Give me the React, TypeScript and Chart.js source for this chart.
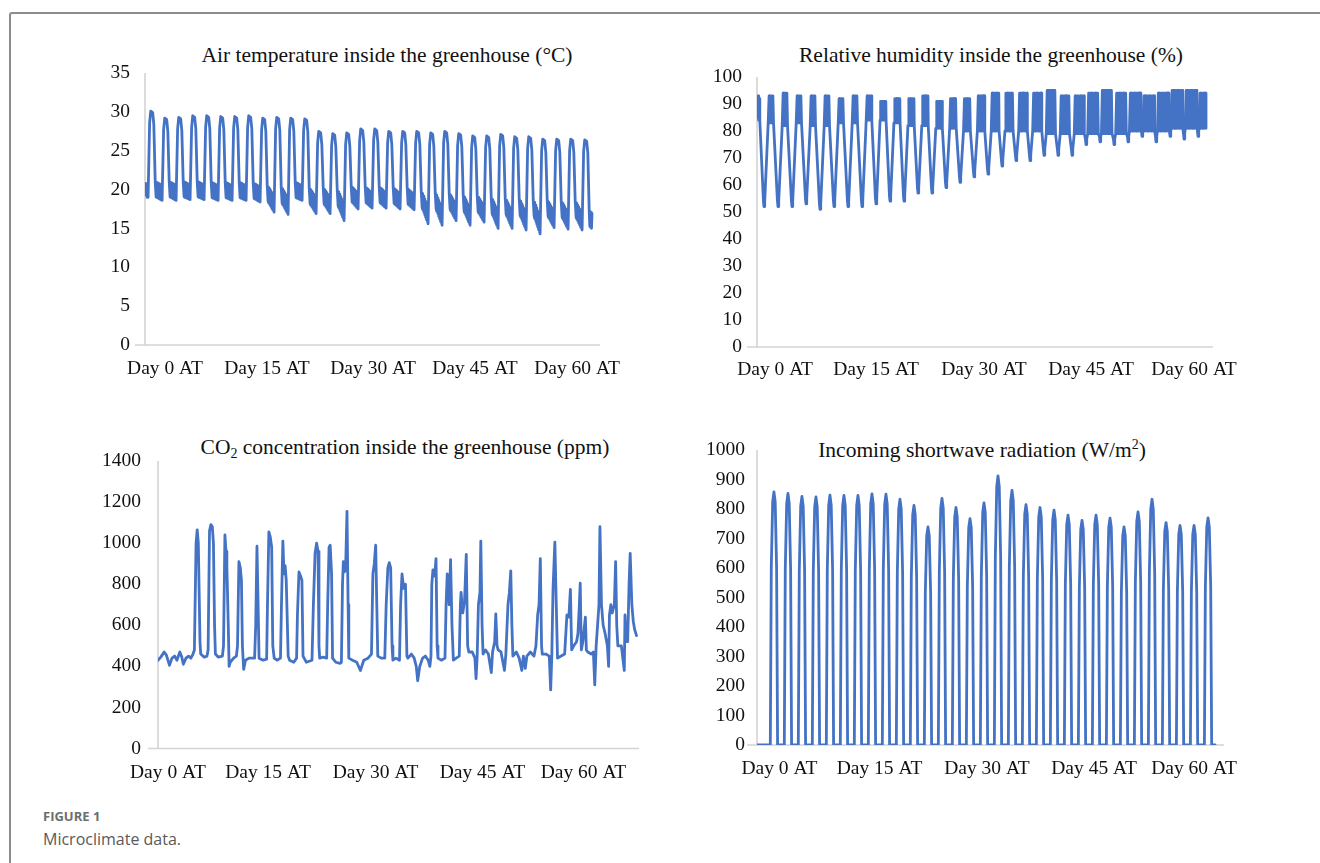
import React, { useEffect, useRef } from "react";
import { Chart, registerables } from "chart.js";

Chart.register(...registerables);

const LINE_BLUE = "#4472C4";
const AXIS_GRAY = "#d4d4d4";
const TEXT = "#111111";
const SERIF = "'Liberation Serif', 'Times New Roman', serif";
const SANS = "'Open Sans', 'Noto Sans', sans-serif";

// ---- x-axis tick labels (shared) and their positions (record-day units) per panel ----
const dayTickLabels = ["Day 0 AT", "Day 15 AT", "Day 30 AT", "Day 45 AT", "Day 60 AT"];
const tempTickPos = [0.93, 8.21, 15.79, 23.07, 30.36];
const rhTickPos = [0.79, 8.0, 15.71, 23.36, 30.71];
const co2TickPos = [0.21, 7.36, 15.04, 22.68, 29.89];
const radTickPos = [0.39, 7.54, 15.21, 22.86, 30.0];

// ---- Air temperature (°C): daily maximum, night band top and night minimum ----
const tempPeak = [30.1, 29.2, 29.3, 29.5, 29.5, 29.4, 29.4, 29.5, 29.2, 29.3, 29.2, 29.1, 27.5, 27.2, 27.3, 27.8,
  27.8, 27.5, 27.5, 27.5, 27.3, 27.5, 27.2, 26.9, 26.9, 27.1, 26.8, 26.8, 26.5, 26.5, 26.5, 26.4];
const tempNightHigh = [21.0, 21.0, 21.0, 21.0, 20.9, 20.9, 20.9, 20.8, 20.5, 20.3, 20.9, 20.2, 20.2, 20.0, 20.4, 20.3,
  20.3, 20.2, 20.1, 19.8, 19.6, 19.5, 19.3, 19.2, 19.0, 18.9, 18.8, 18.7, 18.6, 18.5, 18.5, 17.2];
const tempNightLow = [18.6, 18.6, 18.7, 18.7, 18.6, 18.6, 18.6, 18.4, 17.1, 16.8, 18.6, 16.9, 16.9, 16.0, 17.5, 17.6,
  17.6, 17.5, 17.4, 15.6, 15.4, 16.0, 15.4, 15.8, 15.0, 15.0, 14.8, 14.3, 15.1, 14.9, 14.8, 15.0];
const tempStart = [20.8, 19.3, 20.7, 19.0];

// ---- Relative humidity (%): daytime minimum, night band top and bottom, dip half-width ----
const rhTrough = [52, 52, 52, 53, 51, 52, 52, 52, 53, 54, 54, 57, 57, 59, 61, 63,
  64, 67, 69, 69, 71, 71, 71, 75, 76, 75, 76, 78, 76, 78, 77, 78];
const rhNightTop = [93, 94, 93, 93, 93, 92, 93, 93, 91, 92, 92, 93, 91, 92, 92, 93,
  94, 94, 94, 94, 95, 93, 93, 94, 95, 94, 94, 93, 94, 95, 95, 94];
const rhNightBot = [83, 82, 83, 82, 82, 83, 83, 84, 84, 83, 82, 82, 81, 81, 80, 80,
  80, 80, 80, 80, 79, 79, 79, 79, 79, 79, 80, 80, 80, 81, 81, 81];
const rhDipHalf = [0.3, 0.3, 0.3, 0.3, 0.3, 0.3, 0.3, 0.3, 0.29, 0.28, 0.28, 0.27, 0.27, 0.26, 0.25, 0.24,
  0.23, 0.21, 0.19, 0.19, 0.16, 0.16, 0.16, 0.12, 0.1, 0.12, 0.1, 0.08, 0.1, 0.08, 0.09, 0.08];
const rhStart = [92, 85, 93, 84, 92];

// ---- CO2 concentration (ppm): [record day, ppm] ----
const co2Samples: [number, number][] = [
  [-0.5, 430], [-0.3, 445], [-0.06, 470], [0.1, 455], [0.32, 405], [0.5, 440], [0.69, 450], [0.85, 430],
  [1.06, 470], [1.2, 445], [1.31, 410], [1.5, 440], [1.68, 450], [1.85, 440], [2.0, 460],
  [2.1, 480], [2.22, 1000], [2.3, 1065], [2.38, 1000], [2.5, 520], [2.55, 460],
  [2.8, 445], [3.0, 450],
  [3.08, 480], [3.18, 1060], [3.28, 1090], [3.38, 1080], [3.46, 1000], [3.54, 600], [3.6, 460],
  [3.8, 445], [4.1, 450],
  [4.18, 500], [4.28, 1040], [4.36, 960], [4.42, 890], [4.52, 600], [4.58, 400], [4.66, 420],
  [4.9, 440], [5.1, 450],
  [5.18, 500], [5.28, 910], [5.38, 880], [5.46, 820], [5.53, 500], [5.62, 385], [5.75, 430],
  [6.0, 440], [6.4, 440],
  [6.48, 600], [6.57, 985], [6.65, 700], [6.72, 440],
  [7.0, 430], [7.26, 435],
  [7.32, 700], [7.42, 1055], [7.52, 1030], [7.62, 980], [7.7, 500], [7.8, 440],
  [8.0, 430], [8.25, 440],
  [8.32, 700], [8.42, 1010], [8.5, 850], [8.58, 890], [8.66, 820], [8.8, 450], [8.9, 430],
  [9.2, 420], [9.4, 440],
  [9.46, 650], [9.57, 860], [9.68, 840], [9.78, 820], [9.86, 450],
  [10.1, 420], [10.5, 430],
  [10.6, 700], [10.72, 950], [10.83, 1000], [10.93, 960], [11.0, 500], [11.05, 440],
  [11.3, 445], [11.55, 440],
  [11.62, 700], [11.72, 980], [11.8, 990], [11.9, 850], [11.97, 440],
  [12.2, 420], [12.5, 415], [12.6, 420],
  [12.68, 800], [12.74, 910], [12.82, 860], [12.9, 870], [13.0, 1155], [13.08, 700], [13.13, 440],
  [13.4, 430], [13.7, 420], [13.96, 380], [14.2, 430], [14.5, 440], [14.75, 460],
  [14.85, 850], [14.95, 900], [15.05, 990], [15.13, 700], [15.2, 450],
  [15.45, 440], [15.7, 440],
  [15.8, 700], [15.92, 880], [16.02, 905], [16.12, 880], [16.22, 500], [16.28, 430],
  [16.5, 440], [16.75, 430],
  [16.83, 700], [16.93, 850], [17.05, 780], [17.18, 800], [17.28, 450], [17.35, 440],
  [17.6, 460], [17.8, 440], [17.95, 400], [18.05, 330], [18.2, 400], [18.4, 440], [18.6, 450],
  [18.8, 430], [18.92, 400], [19.0, 450],
  [19.06, 800], [19.14, 870], [19.21, 840], [19.3, 870], [19.36, 925], [19.44, 500], [19.5, 440],
  [19.75, 430], [20.0, 440],
  [20.08, 700], [20.16, 850], [20.24, 840], [20.3, 700], [20.4, 920], [20.5, 600], [20.6, 430],
  [20.8, 440], [21.02, 450],
  [21.1, 700], [21.15, 760], [21.27, 660], [21.4, 720], [21.52, 945], [21.62, 500], [21.7, 470],
  [21.95, 470], [22.14, 440], [22.22, 340], [22.3, 450],
  [22.39, 700], [22.5, 760], [22.56, 1010], [22.65, 600], [22.72, 460],
  [22.9, 480], [23.1, 460], [23.31, 370], [23.4, 470], [23.55, 520],
  [23.63, 655], [23.72, 500], [23.8, 480], [24.0, 470], [24.25, 380], [24.35, 460],
  [24.5, 700], [24.6, 760], [24.7, 865], [24.78, 600], [24.85, 450],
  [25.1, 470], [25.3, 440], [25.49, 380], [25.6, 450], [25.74, 390], [25.85, 450], [26.1, 470], [26.36, 450],
  [26.5, 500], [26.62, 650], [26.72, 700], [26.81, 925], [26.9, 500], [26.95, 460],
  [27.2, 460], [27.45, 450], [27.55, 285], [27.63, 450],
  [27.72, 780], [27.85, 1005], [27.95, 700], [28.04, 440],
  [28.3, 450], [28.55, 460], [28.71, 650], [28.85, 640], [28.96, 775], [29.05, 480],
  [29.2, 500], [29.4, 520], [29.5, 560],
  [29.6, 700], [29.66, 805], [29.74, 480], [29.85, 520], [30.03, 640], [30.1, 480], [30.2, 470],
  [30.45, 460], [30.6, 470], [30.7, 310], [30.8, 500],
  [30.9, 600], [31.0, 700], [31.07, 1080], [31.18, 700], [31.3, 600], [31.44, 560], [31.6, 500],
  [31.69, 400], [31.75, 650], [31.85, 700],
  [31.95, 660], [32.1, 700], [32.19, 910], [32.27, 600], [32.35, 500], [32.6, 500], [32.81, 380],
  [32.86, 650], [32.95, 520], [33.05, 520],
  [33.15, 800], [33.23, 950], [33.35, 700], [33.45, 620], [33.55, 580], [33.68, 550],
];

// ---- Incoming shortwave radiation (W/m²): daily peak ----
const radPeak = [858, 853, 843, 841, 847, 846, 846, 851, 850, 833, 812, 739, 836, 805, 767, 821,
  912, 863, 815, 805, 796, 779, 761, 779, 769, 739, 790, 833, 754, 744, 744, 770];

// shape of one daylight pulse (offset in record days, fraction of peak)
const radPulseOffset = [-0.26, -0.19, -0.09, 0, 0.09, 0.19, 0.26];
const radPulseShare = [0, 0.7, 0.96, 1, 0.96, 0.7, 0];

type Pt = { x: number; y: number };

function buildTemperature(): Pt[] {
  const pts: Pt[] = [
    { x: -0.5, y: tempStart[0] }, { x: -0.45, y: tempStart[1] },
    { x: -0.4, y: tempStart[2] }, { x: -0.34, y: tempStart[3] },
  ];
  const end = 31.43;
  for (let i = 0; i < tempPeak.length; i++) {
    const p = tempPeak[i];
    const hi = tempNightHigh[i];
    const lo = tempNightLow[i];
    const w = Math.min(hi - lo, 1.9);
    const prevLo = i === 0 ? tempStart[3] : tempNightLow[i - 1];
    pts.push(
      { x: i - 0.28, y: prevLo }, { x: i - 0.17, y: p - 1.5 }, { x: i - 0.09, y: p },
      { x: i + 0.05, y: p - 0.2 }, { x: i + 0.13, y: p - 1.7 }, { x: i + 0.23, y: hi },
    );
    const s0 = i + 0.26;
    const s1 = i === tempPeak.length - 1 ? end : i + 0.71;
    const steps = 14;
    for (let k = 0; k <= steps; k++) {
      const f = k / steps;
      const top = hi + (lo + w - hi) * f;
      const bot = hi - w + (lo - (hi - w)) * f;
      pts.push({ x: s0 + (s1 - s0) * f, y: k % 2 === 0 ? top : bot });
    }
  }
  return pts;
}

function buildHumidity(): Pt[] {
  const pts: Pt[] = rhStart.map((v, k) => ({ x: -0.5 + k * 0.04, y: v }));
  const end = 31.57;
  const n = rhTrough.length;
  for (let i = 0; i < n; i++) {
    const h = rhDipHalf[i];
    const prevBot = i === 0 ? rhStart[rhStart.length - 1] - 8 : rhNightBot[i - 1];
    pts.push(
      { x: i - h, y: prevBot },
      { x: i - 0.04, y: rhTrough[i] + 2 },
      { x: i, y: rhTrough[i] },
      { x: i + 0.05, y: rhTrough[i] + 2 },
      { x: i + h, y: rhNightBot[i] },
    );
    const s0 = i + h + 0.02;
    const s1 = i === n - 1 ? end : i + 1 - rhDipHalf[i + 1] - 0.02;
    const steps = Math.max(4, Math.round((s1 - s0) * 22));
    for (let k = 0; k <= steps; k++) {
      const f = k / steps;
      pts.push({ x: s0 + (s1 - s0) * f, y: k % 2 === 0 ? rhNightBot[i] : rhNightTop[i] });
    }
  }
  return pts;
}

function buildCO2(): Pt[] {
  return co2Samples.map(([x, y]) => ({ x, y }));
}

function buildRadiation(): Pt[] {
  const pts: Pt[] = [{ x: -1.21, y: 0 }];
  for (let i = 0; i < radPeak.length; i++) {
    for (let k = 0; k < radPulseOffset.length; k++) {
      pts.push({ x: i + radPulseOffset[k], y: radPeak[i] * radPulseShare[k] });
    }
  }
  pts.push({ x: 31.5, y: 0 });
  return pts;
}

const axisLinesPlugin = {
  id: "axisLines",
  beforeDatasetsDraw(chart: any) {
    const { ctx, chartArea } = chart;
    const y0 = chart.scales.y.getPixelForValue(0);
    ctx.save();
    ctx.strokeStyle = AXIS_GRAY;
    ctx.lineWidth = 1.6;
    ctx.beginPath();
    ctx.moveTo(chartArea.left, chartArea.top);
    ctx.lineTo(chartArea.left, y0);
    ctx.moveTo(chartArea.left - 10, y0);
    ctx.lineTo(chartArea.right, y0);
    ctx.stroke();
    ctx.restore();
  },
};

type PanelProps = {
  box: { left: number; top: number; width: number; height: number };
  area: { left: number; right: number; top: number; bottom: number };
  points: Pt[];
  xMin: number;
  xMax: number;
  tickPos: number[];
  yMax: number;
  yStep: number;
  yPad: number;
  xPad: number;
};

function Panel(props: PanelProps) {
  const ref = useRef<HTMLCanvasElement | null>(null);
  useEffect(() => {
    const canvas = ref.current;
    if (!canvas) return;
    const { box, area } = props;
    const yAxisWidth = area.left - box.left;
    const padTop = area.top - box.top;
    const padRight = box.left + box.width - area.right;
    const xAxisHeight = box.top + box.height - area.bottom;
    const tickFont = { family: SERIF, size: 19.5 };
    const chart = new Chart(canvas, {
      type: "line",
      data: {
        datasets: [
          {
            data: props.points,
            borderColor: LINE_BLUE,
            backgroundColor: LINE_BLUE,
            borderWidth: 2.8,
            pointRadius: 0,
            fill: false,
            tension: 0,
            borderJoinStyle: "round",
            borderCapStyle: "round",
          } as any,
        ],
      },
      options: {
        responsive: false,
        animation: false,
        devicePixelRatio: 1,
        events: [],
        layout: { padding: { left: 0, top: padTop, right: padRight, bottom: 0 } },
        plugins: { legend: { display: false }, tooltip: { enabled: false }, title: { display: false } },
        scales: {
          x: {
            type: "linear",
            min: props.xMin,
            max: props.xMax,
            grid: { display: false, drawTicks: false },
            border: { display: false },
            ticks: {
              autoSkip: false,
              maxRotation: 0,
              minRotation: 0,
              padding: props.xPad,
              color: TEXT,
              font: tickFont,
              callback: (_v: any, i: number) => dayTickLabels[i] ?? "",
            },
            afterBuildTicks: (s: any) => {
              s.ticks = props.tickPos.map((v) => ({ value: v }));
            },
            afterFit: (s: any) => {
              s.height = xAxisHeight;
              s.paddingLeft = 0;
              s.paddingRight = 0;
            },
          },
          y: {
            type: "linear",
            min: 0,
            max: props.yMax,
            grid: { display: false, drawTicks: false },
            border: { display: false },
            ticks: {
              stepSize: props.yStep,
              autoSkip: false,
              padding: props.yPad,
              color: TEXT,
              font: tickFont,
              callback: (v: any) => String(v),
            },
            afterFit: (s: any) => {
              s.width = yAxisWidth;
              s.paddingTop = 0;
              s.paddingBottom = 0;
            },
          },
        },
      } as any,
      plugins: [axisLinesPlugin],
    });
    return () => chart.destroy();
  }, []);
  const { box } = props;
  return (
    <canvas
      ref={ref}
      width={box.width}
      height={box.height}
      style={{ position: "absolute", left: box.left, top: box.top, width: box.width, height: box.height }}
    />
  );
}

function Title(props: { cx: number; baseline: number; children: React.ReactNode }) {
  const size = 21.5;
  const lh = 26;
  const top = props.baseline - ((lh - size * 1.107) / 2 + size * 0.891);
  return (
    <div
      style={{
        position: "absolute",
        left: props.cx - 320,
        width: 640,
        top,
        height: lh,
        lineHeight: lh + "px",
        fontFamily: SERIF,
        fontSize: size,
        color: TEXT,
        textAlign: "center",
        whiteSpace: "nowrap",
      }}
    >
      {props.children}
    </div>
  );
}

export default function App() {
  const temp = buildTemperature();
  const rh = buildHumidity();
  const co2 = buildCO2();
  const rad = buildRadiation();
  return (
    <div style={{ position: "fixed", left: 0, top: 0, width: 1320, height: 863, overflow: "hidden", background: "#fff" }}>
      <div
        style={{
          position: "absolute",
          left: 9,
          top: 12,
          width: 1500,
          height: 1000,
          borderTop: "2px solid #8c8c8c",
          borderLeft: "2px solid #8c8c8c",
          borderTopLeftRadius: 3,
        }}
      />
      <Title cx={387} baseline={62}>Air temperature inside the greenhouse (°C)</Title>
      <Title cx={991} baseline={62}>Relative humidity inside the greenhouse (%)</Title>
      <Title cx={405} baseline={454}>
        CO<sub style={{ fontSize: "0.65em", verticalAlign: "-0.3em", lineHeight: 0 }}>2</sub> concentration inside the greenhouse (ppm)
      </Title>
      <Title cx={982} baseline={457}>
        Incoming shortwave radiation (W/m<sup style={{ fontSize: "0.65em", verticalAlign: "0.55em", lineHeight: 0 }}>2</sup>)
      </Title>

      <Panel
        box={{ left: 95, top: 60, width: 525, height: 330 }}
        area={{ left: 145, right: 600, top: 73, bottom: 345 }}
        points={temp}
        xMin={-0.5}
        xMax={32.0}
        tickPos={tempTickPos}
        yMax={35}
        yStep={5}
        yPad={15}
        xPad={12}
      />
      <Panel
        box={{ left: 700, top: 60, width: 540, height: 330 }}
        area={{ left: 757, right: 1213, top: 77, bottom: 347 }}
        points={rh}
        xMin={-0.5}
        xMax={32.07}
        tickPos={rhTickPos}
        yMax={100}
        yStep={10}
        yPad={15}
        xPad={11}
      />
      <Panel
        box={{ left: 95, top: 440, width: 560, height: 360 }}
        area={{ left: 158, right: 639, top: 461, bottom: 748.5 }}
        points={co2}
        xMin={-0.5}
        xMax={33.86}
        tickPos={co2TickPos}
        yMax={1400}
        yStep={200}
        yPad={17}
        xPad={13}
      />
      <Panel
        box={{ left: 700, top: 430, width: 545, height: 360 }}
        area={{ left: 757, right: 1224, top: 450, bottom: 745 }}
        points={rad}
        xMin={-1.21}
        xMax={32.14}
        tickPos={radTickPos}
        yMax={1000}
        yStep={100}
        yPad={12}
        xPad={12}
      />

      <div
        style={{
          position: "absolute",
          left: 43,
          top: 808,
          lineHeight: "16px",
          fontFamily: SANS,
          fontWeight: 700,
          fontSize: 13,
          color: "#6d6d6d",
          whiteSpace: "nowrap",
        }}
      >
        FIGURE 1
      </div>
      <div
        style={{
          position: "absolute",
          left: 43,
          top: 829,
          lineHeight: "20px",
          fontFamily: SANS,
          fontSize: 16,
          color: "#5a5a5a",
          whiteSpace: "nowrap",
        }}
      >
        Microclimate data.
      </div>
    </div>
  );
}
